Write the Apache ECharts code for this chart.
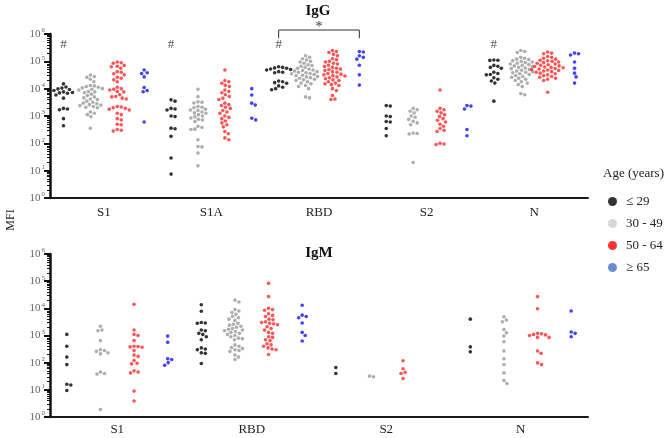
<!DOCTYPE html>
<html>
<head>
<meta charset="utf-8">
<script src="https://cdn.jsdelivr.net/npm/echarts@6/dist/echarts.min.js"></script>
<style>
  html, body { margin: 0; padding: 0; background: #fff; }
  #chart { width: 669px; height: 438px; }
</style>
</head>
<body>
<div id="chart"></div>
<script>
// categories
var antigensTop = ['S1', 'S1A', 'RBD', 'S2', 'N'];
var antigensBottom = ['S1', 'RBD', 'S2', 'N'];
var ageGroups = ['≤ 29', '30 - 49', '50 - 64', '≥ 65'];

// IgG, MFI per age group: [<=29, 30-49, 50-64, >=65]
var iggS1 = [
  [15000, 11500, 10500, 9800, 9300, 8600, 7600, 7200, 7000, 6800, 5900, 4500, 1900, 1800, 1700, 800, 440],
  [31600, 28000, 26000, 22000, 17800, 13000, 12600, 12000, 11200, 10700, 10000, 9500, 8900, 7900, 7600, 7100, 6300, 5600, 5000, 4600, 4200, 4000, 3500, 3200, 2950, 2800, 2600, 2500, 2400, 2240, 2100, 2000, 1400, 1260, 1120, 950, 355],
  [95000, 89000, 85000, 71000, 66000, 63000, 56000, 42000, 40000, 35000, 32000, 26000, 24000, 21000, 17800, 11200, 10000, 9500, 8900, 7900, 7600, 6000, 5200, 5000, 4500, 4200, 2240, 2140, 2000, 1900, 1780, 1660, 1260, 1120, 800, 710, 500, 480, 320, 300, 280],
  [48000, 38000, 36000, 27000, 11000, 8500, 7700, 600]
];
var iggS1A = [
  [3900, 3500, 1900, 1800, 1650, 1000, 950, 360, 340, 180, 29, 7.5],
  [9500, 5100, 3300, 3200, 3000, 2240, 2100, 2000, 1780, 1660, 1580, 1400, 1300, 1260, 1120, 1000, 930, 850, 760, 710, 630, 420, 380, 330, 320, 135, 76, 74, 44, 15],
  [48000, 20000, 17800, 15800, 13200, 12000, 8900, 7900, 7100, 6000, 5200, 4500, 4000, 2950, 2600, 2400, 2100, 1900, 1580, 1400, 1260, 1000, 890, 800, 660, 560, 480, 400, 270, 224, 158, 135],
  [10000, 5900, 2950, 2500, 830, 720]
];
var iggRBD = [
  [63000, 60000, 57500, 56000, 52500, 50000, 48000, 42000, 40000, 38000, 19000, 17800, 16600, 15800, 12600, 11200, 10000, 9100],
  [160000, 140000, 125000, 112000, 100000, 95000, 85000, 75000, 70000, 66000, 60000, 56000, 52000, 48000, 46000, 44000, 42000, 40000, 38000, 36000, 35000, 33000, 31000, 30000, 28000, 27000, 25000, 24000, 22000, 21000, 20000, 18000, 16000, 15000, 13000, 12000, 10000, 5000, 4600],
  [250000, 230000, 210000, 180000, 160000, 125000, 115000, 100000, 95000, 85000, 80000, 72000, 65000, 60000, 56000, 52000, 50000, 46000, 42000, 40000, 36000, 34000, 32000, 30000, 29000, 27000, 25000, 23000, 21000, 20000, 18000, 16000, 15000, 14000, 13000, 10000, 8500, 5600, 4200, 4000],
  [230000, 220000, 160000, 140000, 120000, 72000, 32000, 13500]
];
var iggS2 = [
  [2400, 2300, 1000, 950, 630, 600, 350, 190],
  [1900, 1700, 1500, 1300, 1000, 900, 750, 640, 560, 480, 240, 230, 220, 20],
  [8900, 1900, 1700, 1500, 1300, 1100, 950, 800, 700, 600, 500, 420, 350, 300, 270, 100, 95, 90],
  [2400, 2300, 1800, 320, 190]
];
var iggN = [
  [112000, 110000, 108000, 71000, 66000, 60000, 56000, 40000, 36000, 33000, 32000, 25000, 22000, 19000, 16000, 3500],
  [250000, 230000, 210000, 140000, 130000, 120000, 115000, 105000, 100000, 95000, 90000, 85000, 80000, 76000, 72000, 68000, 64000, 60000, 57000, 54000, 50000, 47000, 44000, 42000, 40000, 38000, 35000, 33000, 30000, 28000, 26000, 24000, 22000, 20000, 18000, 16000, 14000, 12000, 6600, 6000],
  [220000, 200000, 190000, 150000, 140000, 130000, 120000, 110000, 105000, 100000, 95000, 90000, 85000, 80000, 75000, 72000, 68000, 65000, 62000, 60000, 58000, 55000, 52000, 50000, 48000, 46000, 44000, 42000, 40000, 37000, 35000, 32000, 30000, 28000, 26000, 24000, 22000, 20000, 7400],
  [200000, 190000, 170000, 95000, 56000, 37000, 27000, 16000]
];

// IgM
var igmS1 = [
  [1100, 400, 160, 85, 16, 15, 9.5],
  [2200, 1600, 1500, 650, 300, 280, 260, 230, 210, 45, 40, 38, 1.9],
  [14000, 1600, 1100, 1000, 650, 400, 390, 380, 370, 280, 190, 170, 120, 95, 90, 50, 45, 42, 9, 3.9],
  [950, 560, 140, 130, 100, 80]
];
var igmRBD = [
  [13500, 7800, 3000, 2900, 2800, 1600, 1500, 1200, 1100, 900, 700, 350, 320, 300, 230, 220, 93],
  [20000, 17000, 9000, 8000, 7000, 6000, 5000, 4500, 4000, 3600, 2800, 2600, 2400, 2200, 2000, 1800, 1700, 1600, 1500, 1400, 1300, 1200, 1100, 1000, 900, 800, 760, 700, 450, 400, 360, 330, 300, 280, 260, 190, 160, 130],
  [83000, 27000, 10000, 9000, 8500, 6300, 5500, 5000, 4000, 3800, 3200, 3000, 2800, 2700, 2500, 2100, 1800, 1600, 1300, 1200, 900, 850, 700, 650, 500, 450, 400, 350, 320, 300, 200],
  [13000, 5600, 5000, 4500, 2900, 1300, 1000, 630]
];
var igmS2 = [
  [66, 40],
  [32, 30],
  [117, 60, 44, 40, 26],
  []
];
var igmN = [
  [4000, 380, 250],
  [4900, 3700, 3200, 1660, 1260, 950, 590, 270, 140, 85, 42, 22, 17],
  [27000, 9600, 1200, 1150, 1100, 1050, 1000, 850, 850, 270, 220, 98, 85],
  [8000, 1350, 1200, 900]
];

// annotations on the IgG panel
var iggHashCats = [0, 4, 8, 16];
var hashLevel = 400000;
var bracketCats = [8, 11];
var bracketLevels = [700000, 1400000];
var starLevel = 1700000;

var seriesColors = ['#000000', '#999999', '#ff2b2b', '#1212ff'];
var legendColors = ['#000000', '#cccccc', '#ff0000', '#4472c4'];

var serif = 'Liberation Serif';

var chart = echarts.init(document.getElementById('chart'), null, { renderer: 'canvas' });

// layout
var gridTop = { left: 50, right: 81, top: 34, height: 164 };
var gridBottom = { left: 50, right: 81, top: 254, height: 163 };

// the hidden value axis runs 1-based: group i sits at x = i + 1
function slot(i) { return i + 1; }

// simple beeswarm: spread points that collide in pixel space
function swarm(values, center, catPx, decPx) {
  var minDist = 4.0;
  var pts = values.map(function (v) { return { v: v, y: Math.log10(v) * decPx }; });
  pts.sort(function (a, b) { return b.y - a.y; });
  var placed = [];
  var out = [];
  pts.forEach(function (p) {
    var off = 0;
    for (var i = 0; i < 80; i++) {
      var k = Math.ceil(i / 2);
      off = (i % 2 ? 1 : -1) * k * 0.5;
      var ok = true;
      for (var j = 0; j < placed.length; j++) {
        var dx = placed[j].x - off, dy = placed[j].y - p.y;
        if (dx * dx + dy * dy < minDist * minDist) { ok = false; break; }
      }
      if (ok) break;
    }
    placed.push({ x: off, y: p.y });
    out.push([center + off / catPx, p.v]);
  });
  return out;
}

var series = [];

function buildPanel(panel, xIdx, yIdx, grid, nCats) {
  var catPx = (669 - grid.left - grid.right) / nCats;
  var decPx = grid.height / 6;
  for (var a = 0; a < 4; a++) {
    var data = [];
    panel.forEach(function (groups, i) {
      swarm(groups[a], slot(i * 4 + a), catPx, decPx).forEach(function (p) { data.push(p); });
    });
    series.push({
      type: 'scatter',
      name: ageGroups[a],
      xAxisIndex: xIdx,
      yAxisIndex: yIdx,
      data: data,
      symbol: 'circle',
      symbolSize: 3.6,
      itemStyle: { color: seriesColors[a] },
      emphasis: { disabled: true },
      silent: true
    });
  }
}

buildPanel([iggS1, iggS1A, iggRBD, iggS2, iggN], 2, 0, gridTop, 20);
buildPanel([igmS1, igmRBD, igmS2, igmN], 5, 1, gridBottom, 16);

// significance bracket
series.push({
  type: 'line',
  name: 'bracket',
  xAxisIndex: 2, yAxisIndex: 0,
  clip: false,
  silent: true,
  symbol: 'none',
  lineStyle: { color: '#333', width: 1 },
  data: [
    [slot(bracketCats[0]), bracketLevels[0]],
    [slot(bracketCats[0]), bracketLevels[1]],
    [slot(bracketCats[1]), bracketLevels[1]],
    [slot(bracketCats[1]), bracketLevels[0]]
  ]
});

function tickNames(antigens) {
  var out = [];
  antigens.forEach(function (ag) {
    ageGroups.forEach(function (g) { out.push(ag + ' ' + g); });
  });
  return out;
}

function tickAxis(gridIndex, names) {
  return {
    type: 'category', gridIndex: gridIndex, data: names, boundaryGap: true, position: 'bottom',
    axisLine: { lineStyle: { color: '#1a1a1a', width: 2 } },
    axisTick: { alignWithLabel: true, length: 5, lineStyle: { color: '#1a1a1a', width: 1.5 } },
    axisLabel: { show: false },
    splitLine: { show: false }
  };
}
function labelAxis(gridIndex, names, margin) {
  return {
    type: 'category', gridIndex: gridIndex, data: names, boundaryGap: true, position: 'bottom',
    axisLine: { show: false }, axisTick: { show: false }, splitLine: { show: false },
    axisLabel: { margin: margin, fontFamily: serif, fontSize: 13, color: '#222' }
  };
}
function valueAxis(gridIndex, n) {
  return { type: 'value', gridIndex: gridIndex, min: 0.5, max: n + 0.5, show: false, position: 'top' };
}
function logAxis(gridIndex) {
  return {
    type: 'log', logBase: 10, gridIndex: gridIndex, min: 1, max: 1000000, interval: 1,
    axisLine: { show: true, lineStyle: { color: '#111', width: 2.5 } },
    axisTick: { show: true, length: 6, lineStyle: { color: '#111', width: 2 } },
    minorTick: { show: true, splitNumber: 9, length: 3, lineStyle: { color: '#111', width: 1 } },
    splitLine: { show: false },
    axisLabel: {
      margin: 5,
      color: '#666',
      fontFamily: serif,
      fontSize: 11,
      formatter: function (v) { return '10{e|' + Math.round(Math.log10(v)) + '}'; },
      rich: { e: { fontSize: 7, color: '#666', fontFamily: serif, padding: [0, 0, 7, 1] } }
    }
  };
}

var option = {
  animation: false,
  backgroundColor: '#fff',
  grid: [gridTop, gridBottom],
  xAxis: [
    tickAxis(0, tickNames(antigensTop)),
    labelAxis(0, antigensTop, 8),
    valueAxis(0, 20),
    tickAxis(1, tickNames(antigensBottom)),
    labelAxis(1, antigensBottom, 6),
    valueAxis(1, 16)
  ],
  yAxis: [logAxis(0), logAxis(1)],
  legend: {
    orient: 'vertical',
    left: 603,
    top: 190,
    itemWidth: 9,
    itemHeight: 9,
    itemGap: 9,
    icon: 'circle',
    selectedMode: false,
    textStyle: { fontFamily: serif, fontSize: 13, color: '#222', padding: [0, 0, 0, 4] },
    data: ageGroups.map(function (g, i) {
      return { name: g, itemStyle: { color: legendColors[i] } };
    })
  },
  graphic: [
    { type: 'text', x: 318, y: 11, style: { text: 'IgG', font: 'bold 15px "Liberation Serif"', fill: '#111', align: 'center', verticalAlign: 'middle' } },
    { type: 'text', x: 319, y: 253, style: { text: 'IgM', font: 'bold 15px "Liberation Serif"', fill: '#111', align: 'center', verticalAlign: 'middle' } },
    { type: 'text', x: 11, y: 220, rotation: Math.PI / 2, style: { text: 'MFI', font: '12px "Liberation Serif"', fill: '#222', align: 'center', verticalAlign: 'middle' } },
    { type: 'text', x: 603, y: 174, style: { text: 'Age (years)', font: '13px "Liberation Serif"', fill: '#222', align: 'left', verticalAlign: 'middle' } }
  ],
  series: series
};

chart.setOption(option);

// "#" marks and "*" placed through the panel's own scales
var marks = [];
iggHashCats.forEach(function (c) {
  var p = chart.convertToPixel({ xAxisIndex: 2, yAxisIndex: 0 }, [slot(c), hashLevel]);
  marks.push({ type: 'text', x: p[0], y: p[1], style: { text: '#', font: '13px "Liberation Serif"', fill: '#555', align: 'center', verticalAlign: 'middle' } });
});
var sp = chart.convertToPixel({ xAxisIndex: 2, yAxisIndex: 0 }, [(slot(bracketCats[0]) + slot(bracketCats[1])) / 2, starLevel]);
marks.push({ type: 'text', x: sp[0], y: sp[1], style: { text: '*', font: '14px "Liberation Serif"', fill: '#333', align: 'center', verticalAlign: 'middle' } });
chart.setOption({ graphic: option.graphic.concat(marks) });
</script>
</body>
</html>
